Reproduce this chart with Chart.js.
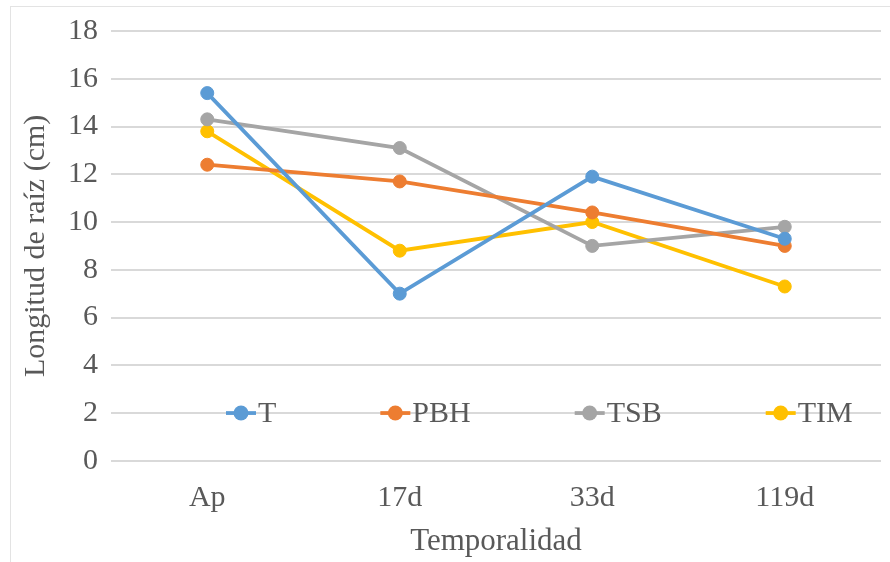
<!DOCTYPE html>
<html>
<head>
<meta charset="utf-8">
<script src="https://cdn.jsdelivr.net/npm/chart.js@4"></script>
<style>
  html, body { margin: 0; padding: 0; background: #fff; }
  #wrap { width: 890px; height: 562px; }
</style>
</head>
<body>
<div id="wrap"><canvas id="raizChart" width="890" height="562"></canvas></div>
<script>
// Longitud de raíz por temporalidad
const categorias = ['Ap', '17d', '33d', '119d'];
const serieT   = [15.4, 7.0, 11.9, 9.3];
const seriePBH = [12.4, 11.7, 10.4, 9.0];
const serieTSB = [14.3, 13.1, 9.0, 9.8];
const serieTIM = [13.8, 8.8, 10.0, 7.3];
const yTicks = [0, 2, 4, 6, 8, 10, 12, 14, 16, 18];

const textColor = '#595959';
const gridColor = '#d9d9d9';
const serif = "'Liberation Serif', 'Times New Roman', serif";

function serie(label, data, color) {
  return {
    label: label,
    data: data,
    borderColor: color,
    backgroundColor: color,
    borderWidth: 3.8,
    pointRadius: 6.5,
    pointHoverRadius: 6.5,
    pointBorderWidth: 1,
    pointBorderColor: color,
    pointBackgroundColor: color,
    tension: 0
  };
}

// legend drawn inside the plot, on the "2" gridline like the excel original
const innerLegend = {
  id: 'innerLegend',
  afterDatasetsDraw(chart) {
    const ctx = chart.ctx;
    const y = chart.scales.y.getPixelForValue(2);
    ctx.save();
    ctx.font = '30px ' + serif;
    ctx.textBaseline = 'middle';
    let x = chart.chartArea.left + 115;
    chart.data.datasets.forEach(ds => {
      // line stub + marker
      ctx.strokeStyle = ds.borderColor;
      ctx.lineWidth = 3.8;
      ctx.beginPath();
      ctx.moveTo(x, y);
      ctx.lineTo(x + 30, y);
      ctx.stroke();
      ctx.fillStyle = ds.borderColor;
      ctx.beginPath();
      ctx.arc(x + 15, y, 7.5, 0, Math.PI * 2);
      ctx.fill();
      ctx.fillStyle = textColor;
      ctx.fillText(ds.label, x + 32, y + 1);
      x += 32 + ctx.measureText(ds.label).width + 104;
    });
    ctx.restore();
  }
};

// thin frame of the chart object (only top and left edges are visible)
const frame = {
  id: 'frame',
  beforeDraw(chart) {
    const ctx = chart.ctx;
    ctx.save();
    ctx.fillStyle = '#fff';
    ctx.fillRect(0, 0, chart.width, chart.height);
    ctx.strokeStyle = '#e3e3e3';
    ctx.lineWidth = 1;
    ctx.strokeRect(10.5, 6.5, 900, 600);
    ctx.restore();
  }
};

new Chart(document.getElementById('raizChart').getContext('2d'), {
  type: 'line',
  data: {
    labels: categorias,
    datasets: [
      serie('T', serieT, '#5b9bd5'),
      serie('PBH', seriePBH, '#ed7d31'),
      serie('TSB', serieTSB, '#a5a5a5'),
      serie('TIM', serieTIM, '#ffc000')
    ]
  },
  options: {
    responsive: false,
    animation: false,
    devicePixelRatio: 1,
    layout: { padding: { top: 10, right: 9, bottom: 2, left: 18 } },
    plugins: {
      legend: { display: false },
      tooltip: { enabled: false }
    },
    scales: {
      x: {
        offset: true,
        grid: { display: false, drawTicks: false },
        border: { display: false },
        ticks: {
          color: textColor,
          padding: 19,
          font: { family: serif, size: 30 }
        },
        title: {
          display: true,
          text: 'Temporalidad',
          color: textColor,
          padding: { top: -12, bottom: 0 },
          font: { family: serif, size: 31 }
        }
      },
      y: {
        min: 0,
        max: 18,
        afterBuildTicks: axis => { axis.ticks = yTicks.map(v => ({ value: v })); },
        grid: { color: gridColor, lineWidth: 2, drawTicks: false },
        border: { display: false },
        ticks: {
          color: textColor,
          padding: 13,
          font: { family: serif, size: 30 }
        },
        title: {
          display: true,
          text: 'Longitud de raíz (cm)',
          color: textColor,
          padding: { top: 0, bottom: 1 },
          font: { family: serif, size: 30 }
        }
      }
    }
  },
  plugins: [frame, innerLegend]
});
</script>
</body>
</html>
